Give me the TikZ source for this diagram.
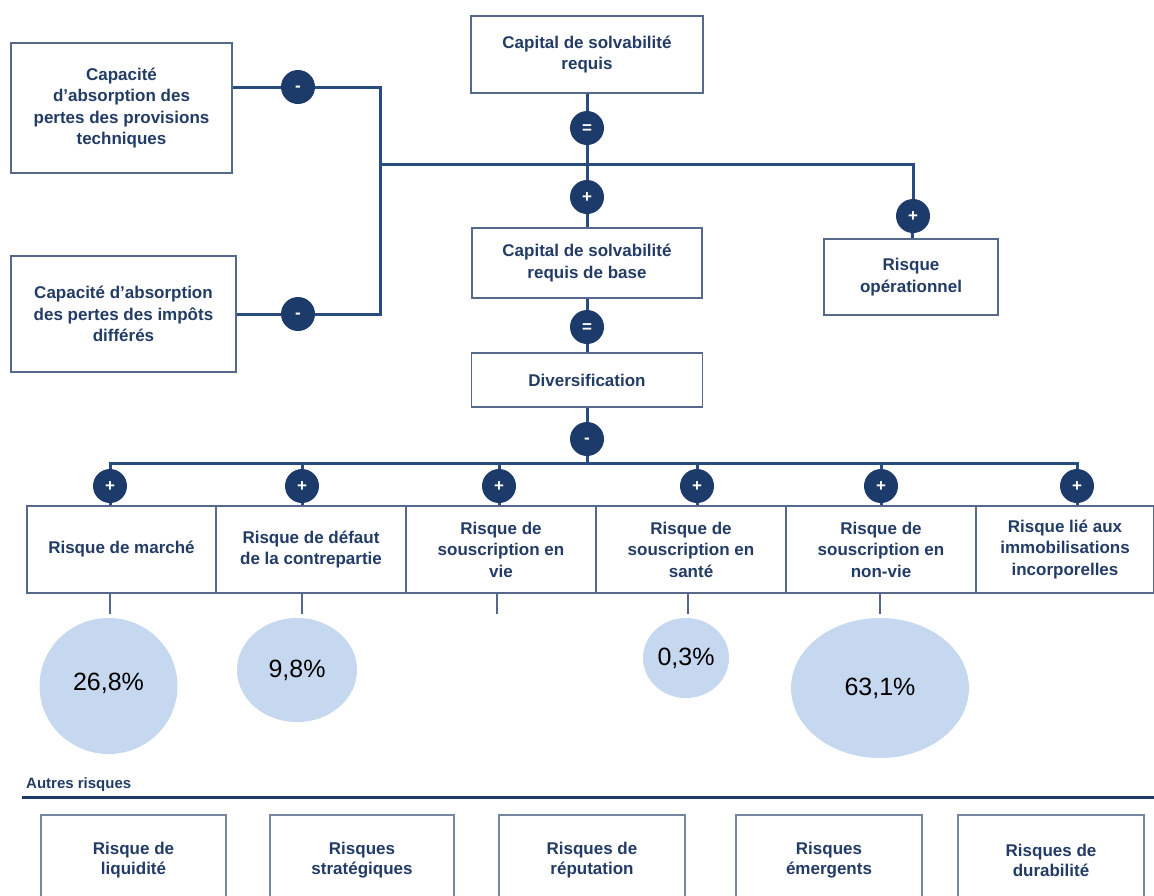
\documentclass[tikz,border=0pt]{standalone}
\usepackage{fontspec}
\setmainfont{Liberation Sans}
\usetikzlibrary{shapes.geometric}
\definecolor{navy}{HTML}{233C66}
\definecolor{boxline}{HTML}{56698A}
\definecolor{wirecol}{HTML}{284B80}
\definecolor{signfill}{HTML}{1C3B6B}
\definecolor{bubblecol}{HTML}{C6D8EF}
\definecolor{rulecol}{HTML}{1F3A64}
\begin{document}
\begin{tikzpicture}[x=1pt,y=-1pt]
    \tikzset{
        box/.style={draw=boxline, line width=1.8pt, fill=white, text=navy, align=center, inner sep=0pt,
            font=\bfseries\fontsize{17}{21.5}\selectfont},
        otherbox/.style={box, draw=boxline!80, font=\bfseries\fontsize{17}{20}\selectfont},
        sign/.style={circle, fill=signfill, text=white, minimum size=34pt, inner sep=0pt,
            text height=11.5pt, text depth=0pt, font=\bfseries\fontsize{17}{17}\selectfont},
        minus/.style={sign, text height=9pt},
        wire/.style={draw=wirecol, line width=3pt},
        stub/.style={draw=boxline, line width=1.5pt},
        bubble/.style={ellipse, fill=bubblecol, inner sep=0pt, font=\fontsize{25}{25}\selectfont}
    }
    \useasboundingbox (0,0) rectangle (1154,895);
    \clip (0,0) rectangle (1154,895);

    \draw node[box, minimum width=232pt, minimum height=77pt] (csr) at (587,54.5) {Capital de solvabilité\\requis};
    \draw node[sign] (eqA) at (587,128) {=};
    \draw node[sign] (plusB) at (587,197) {+};
    \draw node[box, minimum width=230pt, minimum height=70pt] (csrb) at (587,263) {Capital de solvabilité\\requis de base};
    \draw node[sign] (eqB) at (587,327) {=};
    \draw node[box, minimum width=231pt, minimum height=54pt] (div) at (587,380) {Diversification};
    \draw node[minus] (minD) at (587,439) {-};

    \draw node[box, minimum width=221pt, minimum height=130pt] (tp) at (121.5,108) {Capacité\\d’absorption des\\pertes des provisions\\techniques};
    \draw node[box, minimum width=225pt, minimum height=116pt] (di) at (123.5,314) {Capacité d’absorption\\des pertes des impôts\\différés};
    \draw node[minus] (mA) at (298,87) {-};
    \draw node[minus] (mB) at (298,314) {-};
    \draw node[sign] (plusO) at (913,216) {+};
    \draw node[box, minimum width=174pt, minimum height=76pt] (op) at (911,277) {Risque\\opérationnel};

    \coordinate (jl) at (380,164);
    \coordinate (bus) at (587,463);

    \draw node[box, minimum width=189pt, minimum height=87pt] (r1) at (121.5,549.5) {Risque de marché};
    \draw node[box, minimum width=190pt, minimum height=87pt] (r2) at (311,549.5) {Risque de défaut\\de la contrepartie};
    \draw node[box, minimum width=190pt, minimum height=87pt] (r3) at (501,549.5) {Risque de\\souscription en\\vie};
    \draw node[box, minimum width=190pt, minimum height=87pt] (r4) at (691,549.5) {Risque de\\souscription en\\santé};
    \draw node[box, minimum width=190pt, minimum height=87pt] (r5) at (881,549.5) {Risque de\\souscription en\\non-vie};
    \draw node[box, minimum width=178pt, minimum height=87pt] (r6) at (1065,549.5) {Risque lié aux\\immobilisations\\incorporelles};

    \draw node[sign] (p1) at (110,486) {+};
    \draw node[sign] (p2) at (302,486) {+};
    \draw node[sign] (p3) at (499,486) {+};
    \draw node[sign] (p4) at (697,486) {+};
    \draw node[sign] (p5) at (881,486) {+};
    \draw node[sign] (p6) at (1077,486) {+};

    \foreach \x/\y in {%
        csr/eqA,eqA/plusB,plusB/csrb,csrb/eqB,eqB/div,div/minD,plusO/op,mB/di%
    }{
        \draw[wire] (\x) -- (\y);
    }
    \draw[wire] (tp.east |- mA) -- (mA);
    \draw[wire] (mA) -| (jl);
    \draw[wire] (mB) -| (jl);
    \draw[wire] (jl) -| (plusO);
    \draw[wire] (minD) -- (bus);
    \foreach \p/\r in {p1/r1,p2/r2,p3/r3,p4/r4,p5/r5,p6/r6}{
        \draw[wire] (bus) -| (\p);
        \draw[wire] (\p) -- (\p |- \r.north);
    }

    \coordinate (s1) at (110,614);
    \coordinate (s2) at (302,614);
    \coordinate (s3) at (497,614);
    \coordinate (s4) at (688,614);
    \coordinate (s5) at (880,614);
    \foreach \s/\r in {s1/r1,s2/r2,s3/r3,s4/r4,s5/r5}{
        \draw[stub] (\s |- \r.south) -- (\s);
    }

    \draw node[bubble, minimum width=138pt, minimum height=136pt] (e1) at (108.5,686) {\raisebox{8pt}{26,8\%}};
    \draw node[bubble, minimum width=120pt, minimum height=104pt] (e2) at (297,670) {9,8\%};
    \draw node[bubble, minimum width=86pt, minimum height=80pt] (e3) at (686,658) {0,3\%};
    \draw node[bubble, minimum width=178pt, minimum height=140pt] (e4) at (880,688) {63,1\%};

    \draw node[anchor=west, inner sep=0pt, text=navy, font=\bfseries\fontsize{15}{18}\selectfont] (autres) at (26,785) {Autres risques};
    \draw[draw=rulecol, line width=3pt] (22,797) -- (1154,797);

    \draw node[otherbox, minimum width=185pt, minimum height=90pt] (o1) at (133.5,860) {Risque de\\liquidité};
    \draw node[otherbox, minimum width=184pt, minimum height=90pt] (o2) at (362,860) {Risques\\stratégiques};
    \draw node[otherbox, minimum width=186pt, minimum height=90pt] (o3) at (592,860) {Risques de\\réputation};
    \draw node[otherbox, minimum width=186pt, minimum height=90pt] (o4) at (829,860) {Risques\\émergents};
    \draw node[otherbox, minimum width=186pt, minimum height=90pt] (o5) at (1051,860) {Risques de\\durabilité};
\end{tikzpicture}
\end{document}
